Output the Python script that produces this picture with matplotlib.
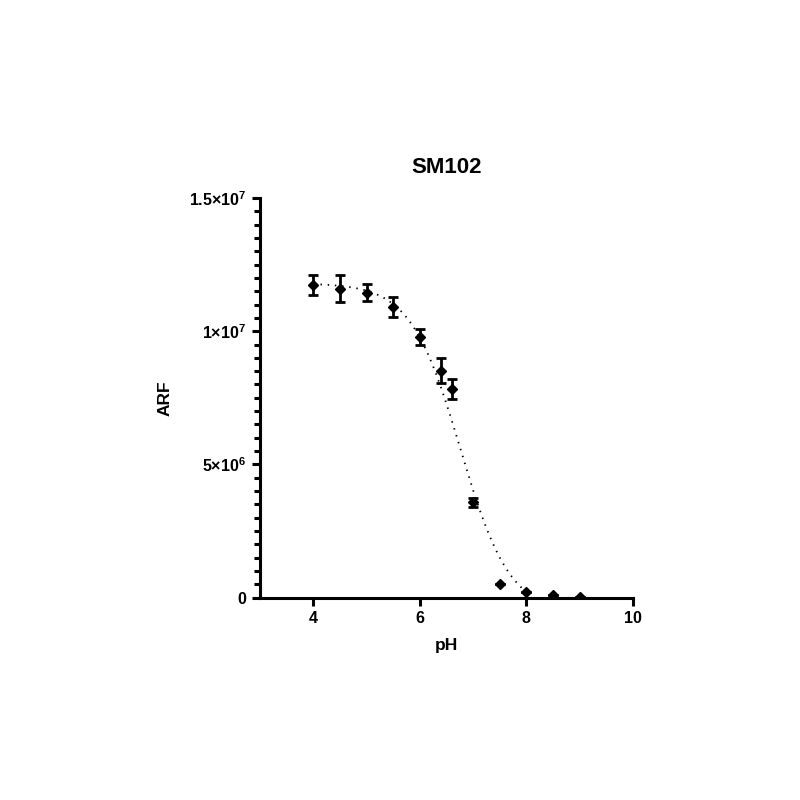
import numpy as np
import matplotlib
matplotlib.use("Agg")
import matplotlib.pyplot as plt
from matplotlib.ticker import MultipleLocator, FixedLocator, FixedFormatter

plt.rcParams['font.family'] = ['Liberation Sans', 'DejaVu Sans']
plt.rcParams['font.weight'] = 'bold'
plt.rcParams['mathtext.fontset'] = 'custom'
plt.rcParams['mathtext.rm'] = 'Liberation Sans:bold'
plt.rcParams['mathtext.default'] = 'rm'

# measured points (mean +/- SD)
ph = [4.0, 4.5, 5.0, 5.5, 6.0, 6.4, 6.6, 7.0, 7.5, 8.0, 8.5, 9.0]
arf = [11.74e6, 11.6e6, 11.45e6, 10.9e6, 9.78e6, 8.52e6, 7.84e6, 3.57e6,
       0.51e6, 0.21e6, 0.09e6, 0.03e6]
arf_sd = [0.37e6, 0.5e6, 0.33e6, 0.38e6, 0.3e6, 0.48e6, 0.37e6, 0.18e6,
          0.0, 0.0, 0.0, 0.0]

# sigmoid fit parameters
fit_top = 11.8e6
fit_bottom = -0.6e6
fit_ph50 = 6.76
fit_hill = 0.93
fit_range = (4.0, 8.0)

ytick_vals = [0, 5e6, 1e7, 1.5e7]
ytick_text = ["0", "5×10$^{6}$", "1×10$^{7}$", "1.5×10$^{7}$"]

fig = plt.figure(figsize=(8, 8), dpi=100)
ax = fig.add_axes([0.325, 0.253, 0.466, 0.4995])

xf = np.linspace(fit_range[0], fit_range[1], 200)
yf = fit_bottom + (fit_top - fit_bottom) / (1 + 10 ** ((xf - fit_ph50) * fit_hill))
ax.plot(xf, yf, color="black", linestyle=(0, (0.8, 3.2)), linewidth=1.3, zorder=2)

ax.errorbar(ph, arf, yerr=arf_sd, fmt="D", color="black", markersize=5,
            ecolor="black", elinewidth=2.0, capsize=3.6, capthick=2.0, zorder=3)

ax.set_xlim(3, 10)
ax.set_ylim(0, 1.5e7)
ax.xaxis.set_major_locator(FixedLocator([4, 6, 8, 10]))
ax.yaxis.set_major_locator(FixedLocator(ytick_vals))
ax.yaxis.set_major_formatter(FixedFormatter(ytick_text))
ax.yaxis.set_minor_locator(MultipleLocator(5e5))

for s in ["top", "right"]:
    ax.spines[s].set_visible(False)
for s in ["left", "bottom"]:
    ax.spines[s].set_linewidth(2.2)
    ax.spines[s].set_zorder(4)

ax.tick_params(axis="both", which="major", length=6, width=2.2, labelsize=11.5, pad=4)
ax.tick_params(axis="y", which="minor", length=4, width=2.2)
for lab in ax.get_xticklabels() + ax.get_yticklabels():
    lab.set_fontweight("bold")

ax.set_title("SM102", fontsize=16, fontweight="bold", pad=18)
ax.set_xlabel("pH", fontsize=12.5, fontweight="bold", labelpad=8)
ax.set_ylabel("ARF", fontsize=12.5, fontweight="bold", labelpad=12)

fig.savefig("out.png", dpi=100)
